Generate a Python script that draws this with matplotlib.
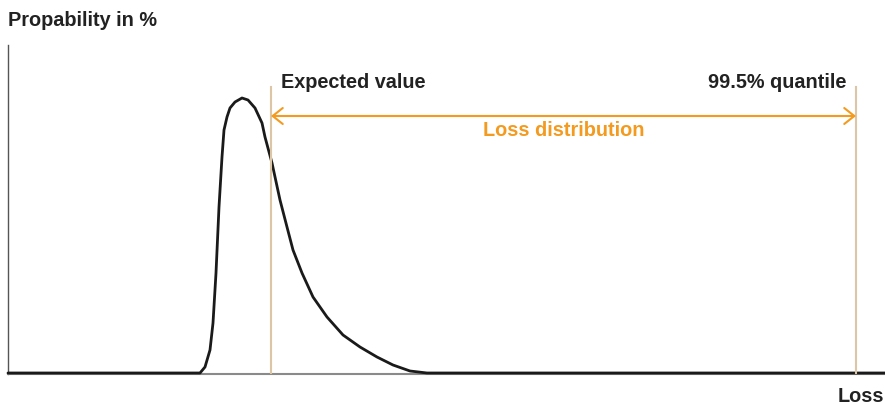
import matplotlib.pyplot as plt

# loss axis (pixel-like units from the y-axis) and density values
loss = [0, 190, 192, 197, 202, 205, 208, 211, 214, 216, 219, 222, 227, 234,
        240, 247, 254, 257, 264, 272, 279, 285, 294, 305, 319, 335, 352, 369,
        385, 402, 419, 877]
density = [1, 1, 1, 7, 24, 51, 101, 167, 217, 244, 257, 266, 272, 276,
           274, 266, 251, 237, 211, 174, 147, 124, 101, 77, 57, 39, 27, 17,
           9, 3, 1, 1]

expected_value = 263
quantile_995 = 848
labels = ["Expected value", "99.5% quantile", "Loss distribution"]

dark = "#222222"
orange = "#f39a1f"
tan = "#dcc6a6"
font = "Liberation Sans"
fs = 14.3

fig = plt.figure(figsize=(8.85, 4.05), dpi=100)
ax = fig.add_axes([8 / 885, 31 / 405, 877 / 885, 329 / 405])
ax.set_xlim(0, 877)
ax.set_ylim(0, 329)
ax.axis("off")

# axes lines
ax.plot([0, 0], [0, 329], color="#555555", lw=1.0, clip_on=False)
ax.plot([0, 877], [0, 0], color="#8a8a8a", lw=1.5, clip_on=False)

ax.plot(loss, density, color="#1a1a1a", lw=2.0, solid_capstyle="round",
        solid_joinstyle="round", antialiased=True, clip_on=False)

ax.plot([expected_value, expected_value], [0, 287], color=tan, lw=1.5)
ax.plot([quantile_995, quantile_995], [0, 287], color=tan, lw=1.5)

ax.annotate("", xy=(quantile_995, 258), xytext=(expected_value, 258),
            arrowprops=dict(arrowstyle="<->,head_length=0.29,head_width=0.23",
                            color=orange, lw=1.5, mutation_scale=25,
                            shrinkA=0, shrinkB=0))

ax.text(expected_value + 10, 292, labels[0], fontsize=fs, fontweight="bold",
        color=dark, family=font, va="center", ha="left")
ax.text(quantile_995 - 10, 292, labels[1], fontsize=fs, fontweight="bold",
        color=dark, family=font, va="center", ha="right")
ax.text((expected_value + quantile_995) / 2, 243, labels[2], fontsize=fs,
        fontweight="bold", color=orange, family=font, va="center", ha="center")

fig.text(8 / 885, 1 - 21 / 405, "Propability in %", fontsize=fs,
         fontweight="bold", color=dark, family=font, va="center", ha="left")
fig.text(884 / 885, 1 - 396 / 405, "Loss", fontsize=fs, fontweight="bold",
         color=dark, family=font, va="center", ha="right")

fig.savefig("out.png", dpi=100)
